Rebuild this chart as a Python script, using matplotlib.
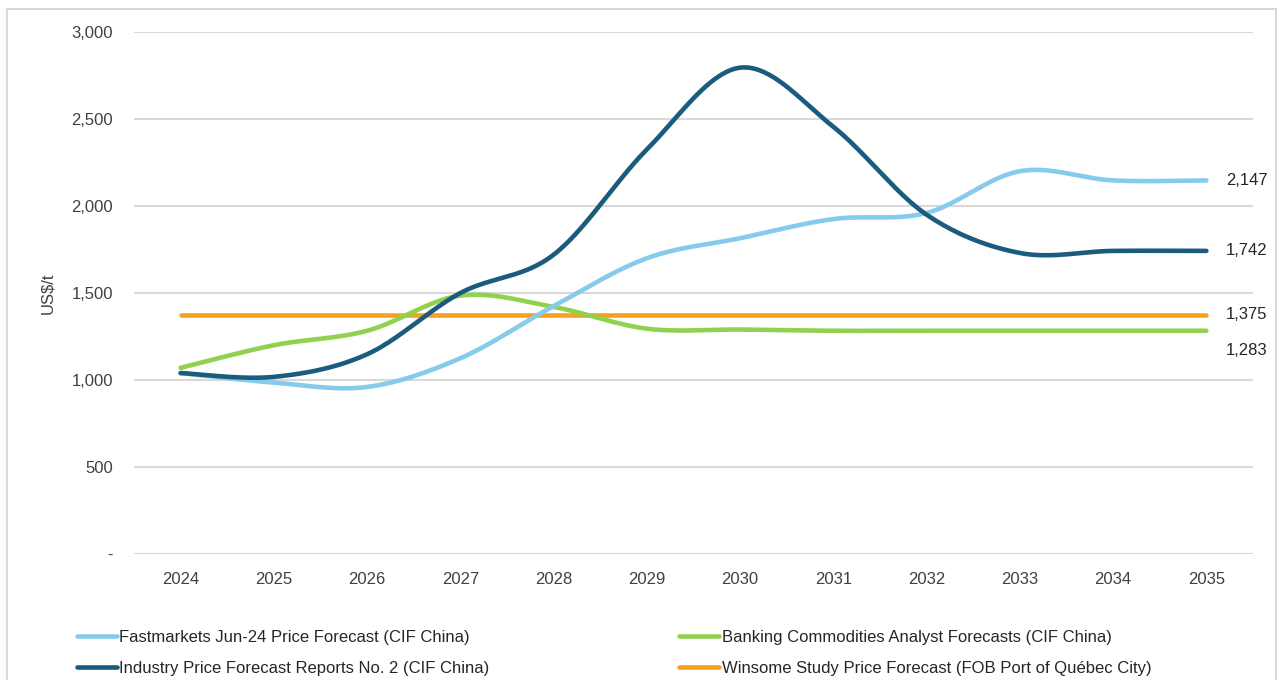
import numpy as np
import matplotlib
matplotlib.use("Agg")
import matplotlib.pyplot as plt
from matplotlib.patches import Rectangle
from matplotlib.lines import Line2D

years = ["2024", "2025", "2026", "2027", "2028", "2029", "2030", "2031", "2032", "2033", "2034", "2035"]
fastmarkets = [1040, 985, 960, 1125, 1425, 1700, 1815, 1925, 1960, 2200, 2147, 2147]
industry = [1040, 1018, 1148, 1500, 1720, 2325, 2795, 2455, 1950, 1730, 1742, 1742]
banking = [1070, 1200, 1283, 1485, 1420, 1295, 1290, 1283, 1283, 1283, 1283, 1283]
winsome = [1375] * 12

names = [
    "Fastmarkets Jun-24 Price Forecast (CIF China)",
    "Banking Commodities Analyst Forecasts (CIF China)",
    "Industry Price Forecast Reports No. 2 (CIF China)",
    "Winsome Study Price Forecast (FOB Port of Qu\u00e9bec City)",
]
colors = {"fast": "#86CBEB", "bank": "#92D050", "ind": "#1B5C7E", "win": "#F5A01E"}

plt.rcParams["font.family"] = ["Liberation Sans", "DejaVu Sans"]


def smooth(yvals, n=40):
    """Excel-style smoothed line (Catmull-Rom cubic Bezier segments)."""
    x = np.arange(len(yvals), dtype=float)
    y = np.asarray(yvals, dtype=float)
    P = np.column_stack([x, y])
    Pe = np.vstack([P[0], P, P[-1]])
    out = []
    t = np.linspace(0, 1, n)[:, None]
    for i in range(len(P) - 1):
        p0 = Pe[i + 1]
        p3 = Pe[i + 2]
        c1 = p0 + (Pe[i + 2] - Pe[i]) / 6.0
        c2 = p3 - (Pe[i + 3] - Pe[i + 1]) / 6.0
        seg = ((1 - t) ** 3) * p0 + 3 * ((1 - t) ** 2) * t * c1 + 3 * (1 - t) * t ** 2 * c2 + t ** 3 * p3
        out.append(seg if i == 0 else seg[1:])
    s = np.vstack(out)
    return s[:, 0], s[:, 1]


fig = plt.figure(figsize=(12.8, 6.8), dpi=100)
ax = fig.add_axes([134 / 1280, 1 - 554 / 680, (1253 - 134) / 1280, (554 - 32) / 680])

lw = 3.3
series = [
    (winsome, colors["win"], 2),
    (banking, colors["bank"], 3),
    (fastmarkets, colors["fast"], 4),
    (industry, colors["ind"], 5),
]
for vals, c, z in series:
    xs, ys = smooth(vals)
    ax.plot(xs, ys, color=c, lw=lw, solid_capstyle="round", zorder=z)

ax.set_xlim(-0.5, len(years) - 0.5)
ax.set_ylim(0, 3000)
ax.set_yticks(np.arange(0, 3001, 500))
ax.set_yticklabels(["-" if v == 0 else f"{v:,}" for v in range(0, 3001, 500)])
ax.set_xticks(np.arange(len(years)))
ax.set_xticklabels(years)
ax.grid(axis="y", color="#D9D9D9", lw=1.5)
ax.set_axisbelow(True)
for s in ax.spines.values():
    s.set_visible(False)
ax.tick_params(length=0, labelsize=12, colors="#404040")
ax.tick_params(axis="y", pad=15)
ax.tick_params(axis="x", pad=13)
ax.set_ylabel("US$/t", fontsize=12, color="#404040", labelpad=12)

# end labels
end_vals = [(fastmarkets[-1], 0), (industry[-1], 0), (winsome[-1], 0), (banking[-1], -14)]
for v, dy in end_vals:
    ax.annotate(f"{v:,}", xy=(len(years) - 1, v), xytext=(14, dy), textcoords="offset points",
                ha="left", va="center", fontsize=12, color="#262626")

# legend
handles = [
    Line2D([], [], color=colors["fast"], lw=lw, solid_capstyle="round"),
    Line2D([], [], color=colors["ind"], lw=lw, solid_capstyle="round"),
    Line2D([], [], color=colors["bank"], lw=lw, solid_capstyle="round"),
    Line2D([], [], color=colors["win"], lw=lw, solid_capstyle="round"),
]
labels = [names[0], names[2], names[1], names[3]]
leg = fig.legend(handles, labels, ncol=2, loc="upper left", bbox_to_anchor=(70 / 1280, 1 - 623 / 680),
                 frameon=False, handlelength=2.4, handletextpad=0.15, columnspacing=11.4,
                 labelspacing=1.0, prop={"size": 12},
                 labelcolor="#262626", borderaxespad=0)

# figure border
fig.patches.append(Rectangle((7 / 1280, -0.1), (1276 - 7) / 1280, 1.1 - 9 / 680, transform=fig.transFigure,
                             fill=False, ec="#D9D9D9", lw=1.5, figure=fig))

fig.savefig("out.png", dpi=100)
